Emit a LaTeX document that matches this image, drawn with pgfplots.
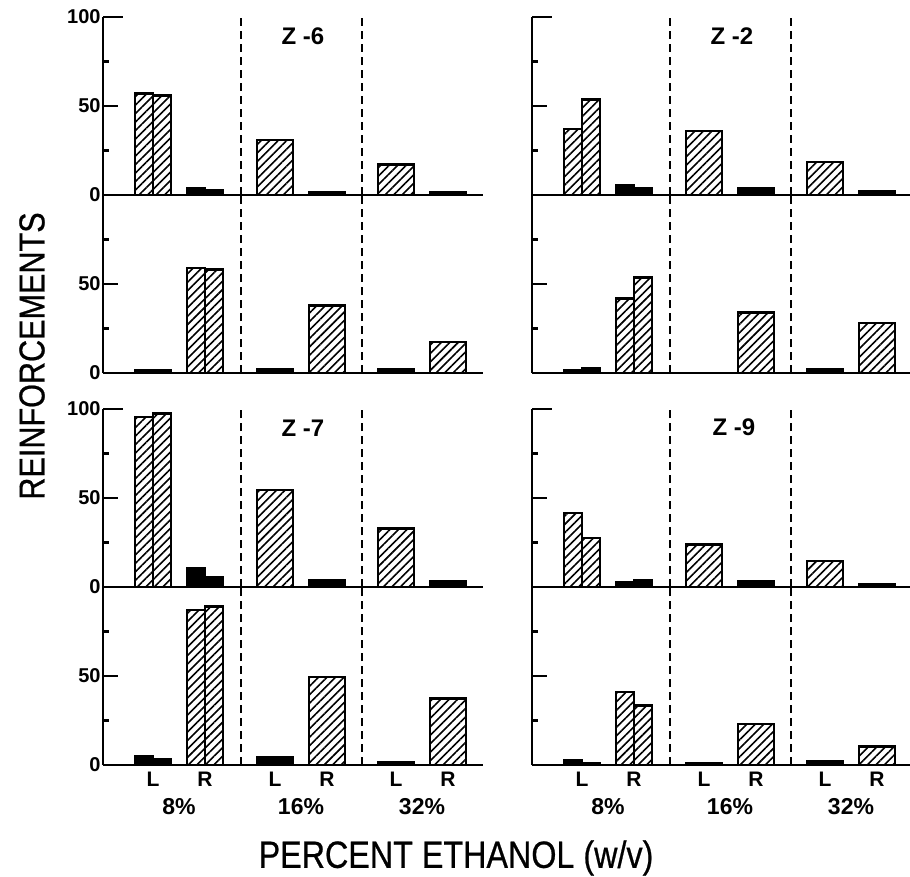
\documentclass[border=0pt]{standalone}
\usepackage{fontspec}
\setmainfont{Liberation Sans}
\newfontfamily\bigfont{Liberation Sans}[FakeStretch=0.85, FakeBold=0.6]
\usepackage{pgfplots}
\pgfplotsset{compat=1.18}
\usetikzlibrary{patterns.meta}

\tikzset{zlab/.style={font=\bfseries\fontsize{12}{14}\selectfont}}

\pgfplotsset{
  panel/.style={
    scale only axis, width=190pt, height=89pt,
    xmin=0, xmax=380, ymin=0, ymax=100,
    axis x line=bottom, axis y line=left,
    axis line style={line width=1.2pt,-},
    xtick=\empty,
    ytick={0,50}, minor ytick={25,75},
    extra y ticks={100},
    extra y tick style={major tick length=10pt},
    tick align=inside, major tick length=7.5pt, minor tick length=3pt,
    every tick/.style={black, line width=1.2pt},
    yticklabel style={font=\bfseries\fontsize{10}{11}\selectfont, inner sep=1pt},
    /pgf/number format/assume math mode=true,
    anchor=south west,
    clip=false,
  },
  toplab/.style={yticklabels={0,50}, extra y tick labels={100}},
  botlab/.style={yticklabels={0,50}, extra y tick labels={{}}},
  nolab/.style={yticklabels={{},{}}, extra y tick labels={{}}},
  xlabs/.style={
    xtick={50,102,172,224,293,345},
    xticklabels={L,R,L,R,L,R},
    xtick style={draw=none},
    xticklabel style={font=\bfseries\fontsize{10.5}{12}\selectfont},
    extra x ticks={76,198,319},
    extra x tick labels={8\%,16\%,32\%},
    extra x tick style={major tick length=0pt, tick style={draw=none},
      xticklabel style={yshift=-13pt, font=\bfseries\fontsize{11.5}{13}\selectfont}},
  },
  hatchpair/.style={ybar, bar shift=0pt, bar width=18, draw=black, line width=1.3pt,
    pattern={Lines[angle=45,distance=3pt,line width=0.8pt]}},
  hatchone/.style={ybar, bar shift=0pt, bar width=36, draw=black, line width=1.3pt,
    pattern={Lines[angle=45,distance=3pt,line width=0.8pt]}},
  blkpair/.style={ybar, bar shift=0pt, bar width=18, draw=black, fill=black, line width=1.3pt},
  blkone/.style={ybar, bar shift=0pt, bar width=36, draw=black, fill=black, line width=1.3pt},
  sep/.style={black, line width=0.8pt, dash pattern=on 4pt off 2.5pt},
}

\begin{document}
\begin{tikzpicture}
\useasboundingbox (0,0) rectangle (455pt,-438.5pt);

% ---------------- Z-6 ----------------
\begin{axis}[panel, toplab, at={(51.5pt,-97.5pt)}]
\addplot[sep] coordinates {(138,0) (138,100)};
\addplot[sep] coordinates {(259,0) (259,100)};
\addplot[hatchpair] coordinates {(41,57) (59,56)};
\addplot[hatchone] coordinates {(172,31) (293,17)};
\addplot[blkpair] coordinates {(93,4) (111,2.5)};
\addplot[blkone] coordinates {(224,1.5) (345,1.5)};
\node[zlab] at (axis cs:200,89) {Z -6};
\end{axis}
\begin{axis}[panel, botlab, at={(51.5pt,-186.5pt)}]
\addplot[sep] coordinates {(138,0) (138,100)};
\addplot[sep] coordinates {(259,0) (259,100)};
\addplot[hatchpair] coordinates {(93,59) (111,58)};
\addplot[hatchone] coordinates {(224,38) (345,17.5)};
\addplot[blkpair] coordinates {(41,1.5) (59,1.5)};
\addplot[blkone] coordinates {(172,2) (293,2)};
\end{axis}

% ---------------- Z-2 ----------------
\begin{axis}[panel, nolab, at={(266pt,-97.5pt)}]
\addplot[sep] coordinates {(138,0) (138,100)};
\addplot[sep] coordinates {(259,0) (259,100)};
\addplot[hatchpair] coordinates {(41,37) (59,53.5)};
\addplot[hatchone] coordinates {(172,36) (293,18.5)};
\addplot[blkpair] coordinates {(93,5.2) (111,3.5)};
\addplot[blkone] coordinates {(224,4) (345,2)};
\node[zlab] at (axis cs:200,89) {Z -2};
\end{axis}
\begin{axis}[panel, nolab, at={(266pt,-186.5pt)}]
\addplot[sep] coordinates {(138,0) (138,100)};
\addplot[sep] coordinates {(259,0) (259,100)};
\addplot[hatchpair] coordinates {(93,42) (111,53.5)};
\addplot[hatchone] coordinates {(224,34) (345,28)};
\addplot[blkpair] coordinates {(41,1.5) (59,2.5)};
\addplot[blkone] coordinates {(293,2)};
\end{axis}

% ---------------- Z-7 ----------------
\begin{axis}[panel, toplab, at={(51.5pt,-293.5pt)}]
\addplot[sep] coordinates {(138,0) (138,100)};
\addplot[sep] coordinates {(259,0) (259,100)};
\addplot[hatchpair] coordinates {(41,95.5) (59,97.5)};
\addplot[hatchone] coordinates {(172,54.5) (293,33)};
\addplot[blkpair] coordinates {(93,10.3) (111,5.5)};
\addplot[blkone] coordinates {(224,4) (345,3)};
\node[zlab] at (axis cs:200,89) {Z -7};
\end{axis}
\begin{axis}[panel, botlab, xlabs, at={(51.5pt,-382.5pt)}]
\addplot[sep] coordinates {(138,0) (138,100)};
\addplot[sep] coordinates {(259,0) (259,100)};
\addplot[hatchpair] coordinates {(93,87) (111,89)};
\addplot[hatchone] coordinates {(224,49.5) (345,37.5)};
\addplot[blkpair] coordinates {(41,4.7) (59,3.4)};
\addplot[blkone] coordinates {(172,4.5) (293,1.7)};
\end{axis}

% ---------------- Z-9 ----------------
\begin{axis}[panel, nolab, at={(266pt,-293.5pt)}]
\addplot[sep] coordinates {(138,0) (138,100)};
\addplot[sep] coordinates {(259,0) (259,100)};
\addplot[hatchpair] coordinates {(41,41.5) (59,27.5)};
\addplot[hatchone] coordinates {(172,24) (293,14.5)};
\addplot[blkpair] coordinates {(93,2.4) (111,4)};
\addplot[blkone] coordinates {(224,3) (345,1.8)};
\node[zlab] at (axis cs:202,90) {Z -9};
\end{axis}
\begin{axis}[panel, nolab, xlabs, at={(266pt,-382.5pt)}]
\addplot[sep] coordinates {(138,0) (138,100)};
\addplot[sep] coordinates {(259,0) (259,100)};
\addplot[hatchpair] coordinates {(93,41) (111,33.3)};
\addplot[hatchone] coordinates {(224,23) (345,10.5)};
\addplot[blkpair] coordinates {(41,2.8) (59,1)};
\addplot[blkone] coordinates {(172,1.2) (293,1.9)};
\end{axis}

% ---------------- axis titles ----------------
\node[rotate=90, font=\bigfont\fontsize{18}{20}\selectfont] at (16pt,-178pt) {REINFORCEMENTS};
\node[font=\bigfont\fontsize{19}{21}\selectfont] at (228pt,-429pt) {PERCENT ETHANOL (w/v)};
\end{tikzpicture}
\end{document}
